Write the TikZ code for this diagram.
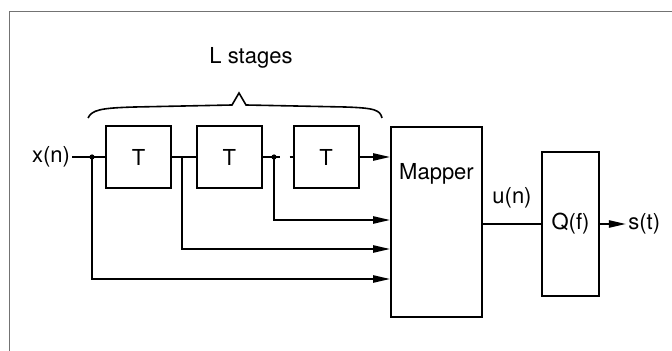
\documentclass[tikz,border=0pt]{standalone}
\usepackage{fontspec}
\setmainfont{TeX Gyre Heros}
\usetikzlibrary{arrows.meta,positioning}

\begin{document}
\begin{tikzpicture}[x=0.5pt, y=-0.5pt,
  every node/.style={font=\fontsize{11}{13}\selectfont},
  dly/.style={draw, line width=0.9pt, minimum width=32.5pt, minimum height=31pt,
              inner sep=0pt},
  blk/.style={draw, line width=0.9pt, inner sep=0pt},
  lbl/.style={inner sep=1pt},
  wire/.style={line width=0.9pt},
  arr/.style={-{Triangle[length=8.5pt,width=3.6pt]}, line width=0.9pt}]
  \useasboundingbox (0,0) rectangle (672,351);
  % open frame
  \draw[black!55, line width=0.5pt] (9,351) -- (9,12) -- (672,12);
  % nodes
  \node[lbl] (xn) at (51,157) {x(n)};
  \node[dly] (t1) at (138.5,157) {T};
  \node[dly, right=12pt of t1] (t2) {T};
  \node[dly, right=15pt of t2] (t3) {T};
  \node[blk, minimum width=45.5pt, minimum height=95pt,
        label={[anchor=center, yshift=-24pt]north:Mapper}] (mapper) at (436.5,222) {};
  \node[blk, minimum width=28.5pt, minimum height=72pt] (q) at (570.5,224) {Q(f)};
  \node[lbl, right=13pt of q] (st) {s(t)};
  \node[lbl] (un) at (512,198) {u(n)};
  \node (lst) at (251,58) {L stages};
  % taps
  \coordinate (s0) at (92,157);
  \coordinate (s1) at (182,157);
  \coordinate (s2) at (274,157);
  \coordinate (gapL) at (280,157);
  \coordinate[left=1.5pt of t3.west] (gapR);
  % delay line
  \draw[wire] (xn) -- (t1);
  \draw[wire] (t1) -- (t2);
  \draw[wire] (t2.east) -- (gapL);
  \draw[wire] (gapR) -- (t3.west);
  \draw[arr] (t3) -- (t3.east -| mapper.west);
  \fill (s0) circle (1.3pt);
  \fill (s2) circle (1.3pt);
  \draw[arr] (s2) |- (mapper.west |- 0,220);
  \draw[arr] (s1) |- (mapper.west |- 0,249);
  \draw[arr] (s0) |- (mapper.west |- 0,279);
  % output
  \draw[wire] (q.west -| mapper.east) -- (q.west);
  \draw[arr] (q) -- (st);
  % brace over the stages
  \draw[line width=0.8pt] (88,118) .. controls (92,110) and (100,108) .. (135,107)
    -- (232,105) -- (239,93) -- (246,105) -- (345,107)
    .. controls (375,108) and (380,110) .. (382,118);
\end{tikzpicture}
\end{document}
